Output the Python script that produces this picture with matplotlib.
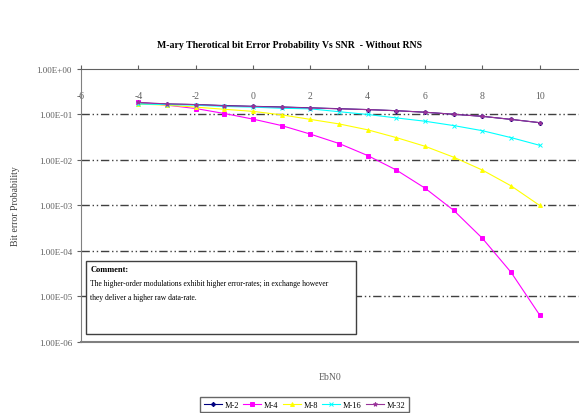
import matplotlib
matplotlib.use('Agg')
import matplotlib.pyplot as plt
import numpy as np

plt.rcParams['font.family'] = ['Liberation Serif', 'DejaVu Serif']
plt.rcParams['axes.unicode_minus'] = False

# EbN0 (dB) and bit error probability
ebn0 = [-4, -3, -2, -1, 0, 1, 2, 3, 4, 5, 6, 7, 8, 9, 10]
m2 = [0.178, 0.17, 0.165, 0.157, 0.151, 0.146, 0.14, 0.134, 0.128, 0.121, 0.112, 0.101, 0.091, 0.078, 0.066]
m4 = [0.185, 0.16, 0.135, 0.105, 0.079, 0.057, 0.037, 0.023, 0.0125, 0.006, 0.0024, 7.8e-4, 1.9e-4, 3.4e-5, 3.9e-6]
m8 = [0.17, 0.16, 0.145, 0.13, 0.117, 0.098, 0.078, 0.062, 0.046, 0.031, 0.020, 0.0115, 0.006, 0.0027, 0.001]
m16 = [0.17, 0.165, 0.16, 0.15, 0.145, 0.137, 0.133, 0.115, 0.10, 0.084, 0.071, 0.057, 0.044, 0.031, 0.021]
m32 = [0.185, 0.17, 0.165, 0.155, 0.15, 0.145, 0.139, 0.133, 0.128, 0.121, 0.112, 0.101, 0.091, 0.078, 0.066]

series = [
    ('M-2', m2, '#000080', 'D', 2.2),
    ('M-4', m4, '#ff00ff', 's', 2.8),
    ('M-8', m8, '#ffff00', '^', 2.8),
    ('M-16', m16, '#00ffff', 'x', 2.5),
    ('M-32', m32, '#993399', '*', 3.2),
]

yticks = [1e0, 1e-1, 1e-2, 1e-3, 1e-4, 1e-5, 1e-6]
ylabels = ['1.00E+00', '1.00E-01', '1.00E-02', '1.00E-03', '1.00E-04', '1.00E-05', '1.00E-06']
xticks = [-6, -4, -2, 0, 2, 4, 6, 8, 10]

fig = plt.figure(figsize=(5.79, 4.14), dpi=100)
ax = fig.add_axes([0.140, 0.1715, 0.86, 0.6595])

for name, vals, col, mk, ms in series:
    ax.plot(ebn0, vals, color=col, marker=mk, markersize=ms, linewidth=0.8,
            markeredgewidth=0.7, label=name)

ax.set_yscale('log')
ax.set_ylim(1e-6, 1e0)
ax.set_xlim(-6, 11.37)
ax.set_yticks(yticks)
ax.set_yticklabels(ylabels)
ax.minorticks_off()
ax.set_xticks(xticks)

for y in yticks[1:-1]:
    ax.axhline(y, color='#404040', linestyle=(0, (6, 2, 1, 2, 1, 2)), linewidth=1.0, zorder=0)

ax.spines['right'].set_visible(False)
ax.spines['left'].set_color('#808080')
ax.spines['top'].set_color('#606060')
ax.spines['bottom'].set_color('#808080')
ax.spines['bottom'].set_linewidth(1.5)

ax.tick_params(axis='x', top=True, labeltop=True, bottom=False, labelbottom=False,
               direction='out', length=3, pad=-25, labelsize=7, colors='#606060')
ax.tick_params(axis='y', direction='out', length=3, labelsize=6.5, colors='#606060')

ax.set_ylabel('Bit error Probability', fontsize=7, color='#404040', labelpad=12)
fig.text(0.57, 0.087, 'EbN0', fontsize=7, color='#606060', ha='center', va='center')
fig.text(0.50, 0.89, 'M-ary Therotical bit Error Probability Vs SNR  - Without RNS',
         fontsize=7, fontweight='bold', ha='center', va='center')

# comment box
box = plt.Rectangle((0.149, 0.191), 0.466, 0.176, transform=fig.transFigure,
                    facecolor='white', edgecolor='#404040', linewidth=1.0, zorder=5)
fig.add_artist(box)
fig.text(0.156, 0.347, 'Comment:', fontsize=6, fontweight='bold', va='center', zorder=6)
fig.text(0.156, 0.296, 'The higher-order modulations exhibit higher error-rates; in exchange however\n'
         'they deliver a higher raw data-rate.', fontsize=5.5, va='center',
         linespacing=2.0, zorder=6)

fig.legend(loc='center', bbox_to_anchor=(0.526, 0.02), ncol=5, fontsize=6,
           frameon=True, fancybox=False, edgecolor='#404040', handlelength=2.2,
           columnspacing=0.5, handletextpad=0.3, borderpad=0.4)

fig.savefig('out.png', dpi=100)
